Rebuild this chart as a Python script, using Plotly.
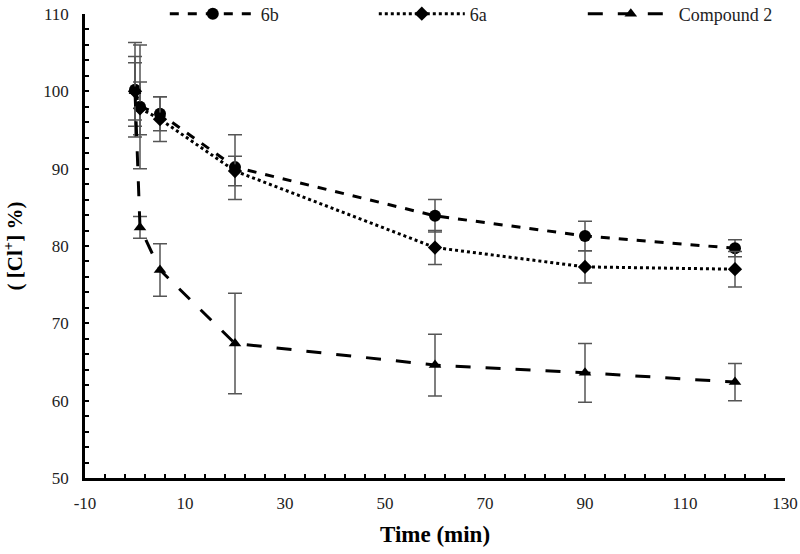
import plotly.graph_objects as go

time_min = [0, 1, 5, 20, 60, 90, 120]

cl_6b = [100.2, 98.0, 97.1, 90.2, 83.9, 81.3, 79.7]
err_6b = [6.1, 8.0, 2.2, 4.2, 2.1, 1.9, 1.1]

cl_6a = [100.0, 97.8, 96.4, 89.7, 79.8, 77.3, 77.0]
err_6a = [3.7, 3.4, 2.9, 1.9, 2.2, 2.1, 2.3]

cl_c2 = [100.0, 82.4, 76.9, 67.4, 64.6, 63.6, 62.4]
err_c2 = [4.5, 1.4, 3.4, 6.5, 4.0, 3.8, 2.4]

series_names = ["6b", "6a", "Compound 2"]

x_tickvals = [-10, 10, 30, 50, 70, 90, 110, 130]
x_ticktext = ["-10", "10", "30", "50", "70", "90", "110", "130"]

FONT = "Liberation Serif"
ERR_COLOR = "#555555"

fig = go.Figure()

def add(name, y, e, dash, symbol, msize):
    fig.add_trace(go.Scatter(
        x=time_min, y=y, name=name, mode="lines+markers",
        line=dict(color="black", width=3, dash=dash),
        marker=dict(symbol=symbol, size=msize, color="black"),
        error_y=dict(type="data", array=e, visible=True, color=ERR_COLOR,
                     thickness=1.5, width=7),
    ))

add(series_names[0], cl_6b, err_6b, "dash", "circle", 12)
add(series_names[1], cl_6a, err_6a, "dot", "diamond", 11)
add(series_names[2], cl_c2, err_c2, "longdash", "triangle-up", 11)

fig.update_layout(
    width=800, height=554,
    margin=dict(l=85, r=15, t=14, b=76, autoexpand=False),
    paper_bgcolor="white", plot_bgcolor="white",
    font=dict(family=FONT, size=16, color="#222"),
    showlegend=True,
    legend=dict(orientation="h", x=0.114, y=1.0, xanchor="left", yanchor="middle",
                bgcolor="rgba(255,255,255,0)", font=dict(size=18, family="Liberation Serif, serif", color="#222"),
                itemwidth=86, entrywidth=108, entrywidthmode="pixels"),
    xaxis=dict(range=[-10, 130], tickmode="array", tickvals=x_tickvals, ticktext=x_ticktext,
               showgrid=False, zeroline=False, automargin=False,
               showline=True, linecolor="black", linewidth=2.5,
               ticks="inside", ticklen=4, tickwidth=2, tickcolor="black",
               minor=dict(dtick=4, tick0=-10, ticks="inside", ticklen=4, tickwidth=2, tickcolor="black"),
               tickfont=dict(size=17, family=FONT), ticklabelstandoff=8,
               title=dict(text="<b>Time (min)</b>", font=dict(size=23, family=FONT, color="black"), standoff=14)),
    yaxis=dict(range=[50, 110], tick0=50, dtick=10, showgrid=False, zeroline=False, automargin=False,
               showline=True, linecolor="black", linewidth=2.5,
               ticks="inside", ticklen=4, tickwidth=2, tickcolor="black",
               minor=dict(dtick=2, ticks="inside", ticklen=4, tickwidth=2, tickcolor="black"),
               tickfont=dict(size=17, family=FONT), ticklabelstandoff=10,
               title=dict(text="<b>( [Cl<sup>+</sup>] %)</b>", font=dict(size=21, family=FONT, color="black"), standoff=18)),
)

fig.write_html("out.html", config={"displayModeBar": False},
               post_script="document.body.style.margin='0';")
